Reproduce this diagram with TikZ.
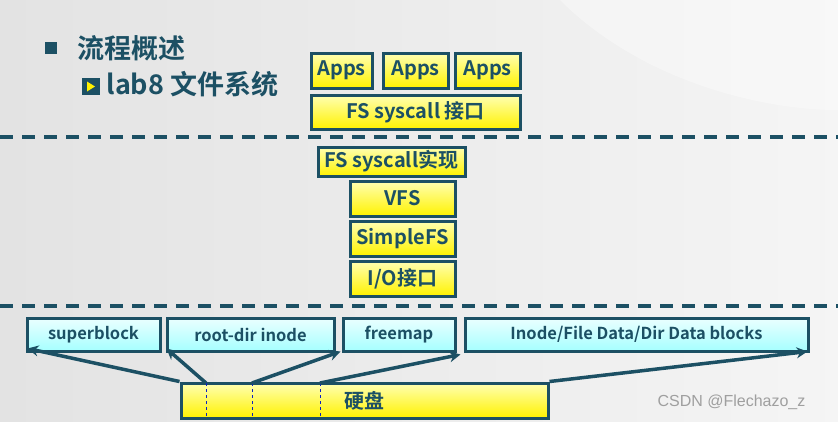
\documentclass[tikz,border=0pt]{standalone}
\usepackage{fontspec}
\setmainfont{Noto Sans CJK SC}[BoldFont={* Bold}]
\newfontfamily\wm{Liberation Sans}
\definecolor{dk}{HTML}{1C5064}
\usetikzlibrary{arrows.meta}
\begin{document}
\begin{tikzpicture}[x=1pt,y=-1pt,
 yb/.style={draw=dk,line width=3pt,top color=yellow!30!white,bottom color=yellow!90!orange,text=dk,font=\bfseries\fontsize{20}{20}\selectfont,inner sep=0pt},
 cb/.style={draw=dk,line width=3pt,top color=cyan!8!white,bottom color=cyan!35!white,text=dk,font=\bfseries\fontsize{16.5}{17}\selectfont,inner sep=0pt},
 dl/.style={draw=dk,line width=3.5pt,dash pattern=on 13pt off 9pt},
 ar/.style={draw=dk,line width=3.5pt,-{Stealth[length=11pt,width=11pt]}},
 vd/.style={draw=blue!60!dk,dashed,line width=1pt}]
\fill[left color=gray!22,right color=gray!8] (0,0) rectangle (838,421);
\fill[white,opacity=0.35] (560,0) .. controls (640,80) and (760,110) .. (838,110) -- (838,0) -- cycle;
\useasboundingbox (0,0) rectangle (838,421);
% title
\fill[dk] (45,42) rectangle (57,54);
\node[anchor=west,text=dk,font=\bfseries\fontsize{27}{27}\selectfont] (t1) at (74,48) {流程概述};
\fill[dk] (82,78) rectangle (100,95);
\fill[yellow] (87,81.5) -- (95,86.5) -- (87,91.5) -- cycle;
\node[anchor=west,text=dk,font=\bfseries\fontsize{27}{27}\selectfont] (t2) at (103,84) {lab8 文件系统};
% upper boxes
\node[yb,minimum width=61pt,minimum height=35pt] (a1) at (341.5,70.5) {Apps};
\node[yb,minimum width=65pt,minimum height=35pt] (a2) at (415.5,70.5) {Apps};
\node[yb,minimum width=65pt,minimum height=35pt] (a3) at (487.5,70.5) {Apps};
\node[yb,minimum width=209pt,minimum height=34pt] (fs) at (415.5,112) {FS syscall 接口};
\draw[dl] (0,137) -- (838,137);
\node[yb,minimum width=147pt,minimum height=29pt] (fi) at (391.5,161.5) {FS syscall实现};
\node[yb,minimum width=105pt,minimum height=35pt] (vfs) at (402.5,198.5) {VFS};
\node[yb,minimum width=105pt,minimum height=35pt] (sfs) at (402.5,238.5) {SimpleFS};
\node[yb,minimum width=105pt,minimum height=35pt] (io) at (402.5,278.5) {I/O接口};
\draw[dl] (0,306) -- (838,306);
% lower
\node[cb,minimum width=133pt,minimum height=33pt] (sb) at (93.5,334.5) {superblock};
\node[cb,minimum width=167pt,minimum height=33pt] (rd) at (250.5,334.5) {root-dir inode};
\node[cb,minimum width=112pt,minimum height=33pt] (fm) at (399,334.5) {freemap};
\node[cb,minimum width=343pt,minimum height=33pt] (db) at (636.5,334.5) {Inode/File Data/Dir Data blocks};
\node[yb,minimum width=367pt,minimum height=35pt] (hd) at (364.5,400.5) {硬盘};
\coordinate (p1) at (206,383); \coordinate (p2) at (252,383); \coordinate (p3) at (320,383);
\draw[vd] (p1) -- (206,418); \draw[vd] (p2) -- (252,418); \draw[vd] (p3) -- (320,418);
\draw[ar] (hd.north west) -- ([xshift=2pt,yshift=4pt]sb.south west);
\draw[ar] (p1) -- ([xshift=1pt,yshift=4pt]rd.south west);
\draw[ar] (p2) -- ([xshift=5pt,yshift=1pt]rd.south east);
\draw[ar] (p3) -- ([xshift=-3pt,yshift=-2pt]db.south west);
\draw[ar] (hd.north east) -- ([xshift=-2pt,yshift=1pt]db.south east);
\node[anchor=west,text=gray!75,font=\wm\fontsize{16}{16}\selectfont] (w) at (654,402) {CSDN @Flechazo\_z};
\end{tikzpicture}
\end{document}
